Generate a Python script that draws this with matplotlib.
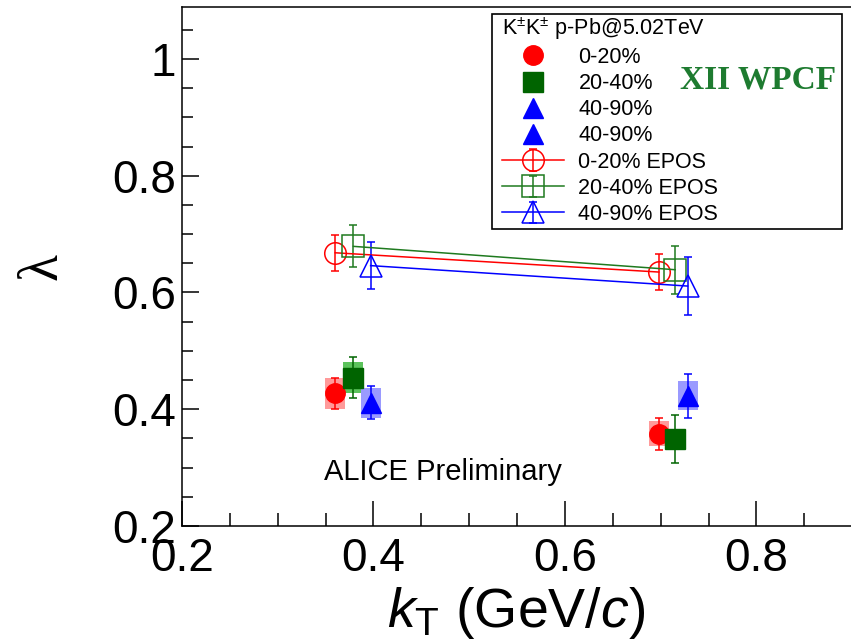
#!/usr/bin/env python

import matplotlib

matplotlib.use("Agg")
import matplotlib.pyplot as plt
from matplotlib.lines import Line2D
from matplotlib.patches import Rectangle
from matplotlib.ticker import MultipleLocator

plt.rcParams["font.family"] = ["Liberation Sans", "DejaVu Sans"]
plt.rcParams["mathtext.fontset"] = "custom"
plt.rcParams["mathtext.rm"] = "Liberation Sans"
plt.rcParams["mathtext.it"] = "Liberation Sans:italic"

# ALICE preliminary K+-K+- lambda vs kT (p-Pb 5.02 TeV)
kt_020 = [0.360, 0.698]
lam_020 = [0.427, 0.358]
stat_020 = [0.026, 0.027]
sys_020 = [0.026, 0.021]

kt_2040 = [0.379, 0.715]
lam_2040 = [0.454, 0.349]
stat_2040 = [0.035, 0.041]
sys_2040 = [0.027, 0.015]

kt_4090 = [0.397, 0.728]
lam_4090 = [0.411, 0.423]
stat_4090 = [0.028, 0.038]
sys_4090 = [0.026, 0.025]

# EPOS
epos_020 = [0.668, 0.635]
epos_err_020 = [0.031, 0.031]
epos_2040 = [0.679, 0.639]
epos_err_2040 = [0.036, 0.041]
epos_4090 = [0.646, 0.611]
epos_err_4090 = [0.040, 0.050]

RED = "#ff0000"
GREEN = "#006400"
GREEN_EPOS = "#1f7a1f"
BLUE = "#0000ff"

fig = plt.figure(figsize=(8.51, 6.41), dpi=100)
ax = fig.add_axes([182 / 851, 115 / 641, 669 / 851, 519 / 641])

# systematic boxes
box_w = 0.021
for kt, lam, sys_, col in [
    (kt_020, lam_020, sys_020, "#ff9a9a"),
    (kt_2040, lam_2040, sys_2040, "#5cc35c"),
    (kt_4090, lam_4090, sys_4090, "#9a9aff"),
]:
    ax.bar(kt, [2 * s for s in sys_], bottom=[l - s for l, s in zip(lam, sys_)],
           width=box_w, color=col, linewidth=0, zorder=1)

# data points with stat errors
data_specs = [
    (kt_020, lam_020, stat_020, "o", RED, 14),
    (kt_2040, lam_2040, stat_2040, "s", GREEN, 14),
    (kt_4090, lam_4090, stat_4090, "^", BLUE, 14),
]
for kt, lam, err, mk, col, ms in data_specs:
    ax.errorbar(kt, lam, yerr=err, fmt=mk, color=col, ms=ms, elinewidth=1.1,
                capsize=3, capthick=1.1, zorder=3)

# EPOS
epos_handles = []
for kt, lam, err, mk, col, lab in [
    (kt_020, epos_020, epos_err_020, "o", RED, "0-20% EPOS"),
    (kt_2040, epos_2040, epos_err_2040, "s", GREEN_EPOS, "20-40% EPOS"),
    (kt_4090, epos_4090, epos_err_4090, "^", BLUE, "40-90% EPOS"),
]:
    h = ax.errorbar(kt, lam, yerr=err, fmt=mk + "-", color=col, mfc="none",
                    mec=col, ms=15.5, mew=1.1, lw=1.1, elinewidth=1.1,
                    capsize=3, capthick=1.1, label=lab, zorder=4)
    epos_handles.append(h)

data_handles = [
    Line2D([], [], marker="o", ls="none", color=RED, ms=14),
    Line2D([], [], marker="s", ls="none", color=GREEN, ms=14),
    Line2D([], [], marker="^", ls="none", color=BLUE, ms=14),
    Line2D([], [], marker="^", ls="none", color=BLUE, ms=14),
]

handles = data_handles + epos_handles
labels = ["0-20%", "20-40%", "40-90%", "40-90%",
          "0-20% EPOS", "20-40% EPOS", "40-90% EPOS"]

# legend box (ROOT style, fixed size)
ax.add_patch(Rectangle((0.4634, 0.5723), 0.5231, 0.4142, transform=ax.transAxes,
                       facecolor="white", edgecolor="black", linewidth=1.2,
                       zorder=5))
leg = ax.legend(handles, labels, loc="upper left",
                bbox_to_anchor=(0.4783, 0.984), borderaxespad=0,
                title=r"K$^{\pm}$K$^{\pm}$ p-Pb@5.02TeV", title_fontsize=15.5,
                fontsize=15.5, frameon=False, handlelength=2.9,
                handletextpad=0.65, labelspacing=0.24, borderpad=0,
                alignment="left")
leg.set_zorder(6)

ax.text(0.745, 0.86, "XII WPCF", transform=ax.transAxes,
        fontsize=24, fontweight="bold", family="Liberation Serif",
        color="#1e7b30", ha="left", va="center", zorder=7)
ax.text(0.213, 0.105, "ALICE Preliminary", transform=ax.transAxes,
        fontsize=21, ha="left", va="center")

ax.set_xlim(0.2, 0.8987)
ax.set_ylim(0.2, 1.089)
ax.xaxis.set_major_locator(MultipleLocator(0.2))
ax.xaxis.set_minor_locator(MultipleLocator(0.05))
ax.yaxis.set_major_locator(MultipleLocator(0.2))
ax.yaxis.set_minor_locator(MultipleLocator(0.05))
ax.xaxis.set_major_formatter(plt.FuncFormatter(lambda v, p: f"{v:g}"))
ax.yaxis.set_major_formatter(plt.FuncFormatter(lambda v, p: f"{v:g}"))

ax.tick_params(axis="both", which="both", direction="in", width=1.1,
               labelsize=33, top=False, right=False)
ax.tick_params(axis="x", which="major", length=18, pad=8)
ax.tick_params(axis="x", which="minor", length=9.4)
ax.tick_params(axis="y", which="major", length=12, pad=4)
ax.tick_params(axis="y", which="minor", length=8)
ax.spines["right"].set_visible(False)
for s in ["left", "bottom", "top"]:
    ax.spines[s].set_linewidth(1.1)

ax.set_xlabel(r"$k_{\mathrm{T}}$ (GeV/$c$)", fontsize=40, labelpad=3)
ax.set_ylabel("λ", fontsize=40, family="Liberation Serif", va="center")
ax.yaxis.set_label_coords(-0.208, 0.5)

fig.savefig("out.png", dpi=100)
